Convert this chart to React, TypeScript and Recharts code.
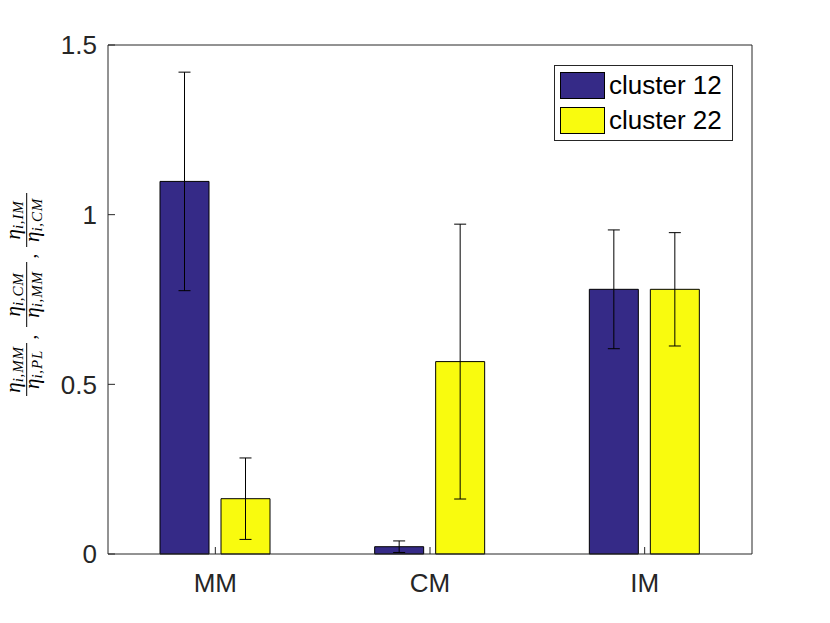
import React from 'react';
import { BarChart, Bar, XAxis, YAxis, ErrorBar, Legend } from 'recharts';

const categories = ['MM', 'CM', 'IM'];
const cluster12 = [1.098, 0.0215, 0.78];
const cluster22 = [0.163, 0.567, 0.78];
const err12 = [0.322, 0.017, 0.175];
const err22 = [0.12, 0.405, 0.167];
const yTicks = [0, 0.5, 1, 1.5];
const seriesNames = ['cluster 12', 'cluster 22'];
const seriesColors = ['#352a87', '#f9fb0e'];

const labelFractions = [
  { num: 'i,MM', den: 'i,PL' },
  { num: 'i,CM', den: 'i,MM' },
  { num: 'i,IM', den: 'i,CM' },
];

const data = categories.map((name, i) => ({
  name,
  c12: cluster12[i],
  c22: cluster22[i],
  e12: err12[i],
  e22: err22[i],
}));

const AXIS = '#262626';
const FONT = '"Liberation Sans", Arial, Helvetica, sans-serif';
const SERIF = '"Liberation Serif", "Times New Roman", serif';

const fracPos = [
  { u: -75, w: 53 },
  { u: 0, w: 65 },
  { u: 74.5, w: 54 },
];
const commaPos = [-42.5, 38.5];

const Eta = ({ x, y, sub }: { x: number; y: number; sub: string }) => (
  <text x={x} y={y} textAnchor="middle" fontFamily={SERIF} fontStyle="italic" fontSize={21} fill="#000">
    η<tspan fontSize={15} dy={3} letterSpacing={0.8}>{sub}</tspan>
  </text>
);

const YLabel = () => (
  <g transform="translate(26.7,286.5) rotate(-90)">
    {labelFractions.map((f, i) => (
      <g key={i}>
        <Eta x={fracPos[i].u} y={-6.5} sub={f.num} />
        <line x1={fracPos[i].u - fracPos[i].w / 2} x2={fracPos[i].u + fracPos[i].w / 2} y1={0} y2={0} stroke="#000" strokeWidth={1} />
        <Eta x={fracPos[i].u} y={12.5} sub={f.den} />
      </g>
    ))}
    {commaPos.map((c, i) => (
      <text key={i} x={c} y={9} textAnchor="middle" fontFamily={SERIF} fontSize={19} fill="#000">,</text>
    ))}
  </g>
);

const LegendBox = () => (
  <div
    style={{
      position: 'relative',
      width: 179,
      height: 76,
      border: `1px solid ${AXIS}`,
      background: '#fff',
      boxSizing: 'border-box',
      fontFamily: FONT,
    }}
  >
    {seriesNames.map((n, i) => (
      <div key={n} style={{ position: 'absolute', left: 5, top: 6 + i * 35, height: 27, display: 'flex', alignItems: 'center' }}>
        <div style={{ width: 45, height: 27, background: seriesColors[i], border: '1px solid #000', boxSizing: 'border-box' }} />
        <span style={{ marginLeft: 4, fontSize: 26, color: '#000', lineHeight: '27px' }}>{n}</span>
      </div>
    ))}
  </div>
);

export default function App() {
  return (
    <div style={{ marginLeft: -8, width: 822 }}>
      <BarChart
        width={822}
        height={607}
        data={data}
        margin={{ top: 7, right: 40, bottom: 31, left: 48 }}
        barSize={49}
        barGap={12}
      >
        <XAxis
          dataKey="name"
          xAxisId="bottom"
          orientation="bottom"
          height={30}
          tickSize={-7}
          tickMargin={27}
          stroke={AXIS}
          tick={{ fill: AXIS, fontSize: 26, fontFamily: FONT }}
        />
        <XAxis
          dataKey="name"
          xAxisId="top"
          orientation="top"
          height={30}
          tickSize={-7}
          tick={false}
          stroke={AXIS}
        />
        <YAxis
          yAxisId="left"
          type="number"
          domain={[0, 1.5]}
          ticks={yTicks}
          width={60}
          tickSize={-7}
          tickMargin={18}
          stroke={AXIS}
          tick={{ fill: AXIS, fontSize: 26, fontFamily: FONT }}
          label={{ content: () => <YLabel /> }}
        />
        <YAxis
          yAxisId="right"
          orientation="right"
          type="number"
          domain={[0, 1.5]}
          ticks={yTicks}
          width={30}
          tickSize={-7}
          tick={false}
          stroke={AXIS}
        />
        <Legend
          layout="vertical"
          align="center"
          verticalAlign="middle"
          content={() => <LegendBox />}
          wrapperStyle={{ position: 'absolute', left: 554, top: 57, width: 179, height: 76, margin: 0 }}
        />
        <Bar dataKey="c12" name={seriesNames[0]} xAxisId="bottom" yAxisId="left" fill={seriesColors[0]} stroke="#000" strokeWidth={1} isAnimationActive={false}>
          <ErrorBar dataKey="e12" width={6} stroke="#000" strokeWidth={1} direction="y" isAnimationActive={false} />
        </Bar>
        <Bar dataKey="c22" name={seriesNames[1]} xAxisId="bottom" yAxisId="left" fill={seriesColors[1]} stroke="#000" strokeWidth={1} isAnimationActive={false}>
          <ErrorBar dataKey="e22" width={6} stroke="#000" strokeWidth={1} direction="y" isAnimationActive={false} />
        </Bar>
      </BarChart>
    </div>
  );
}
